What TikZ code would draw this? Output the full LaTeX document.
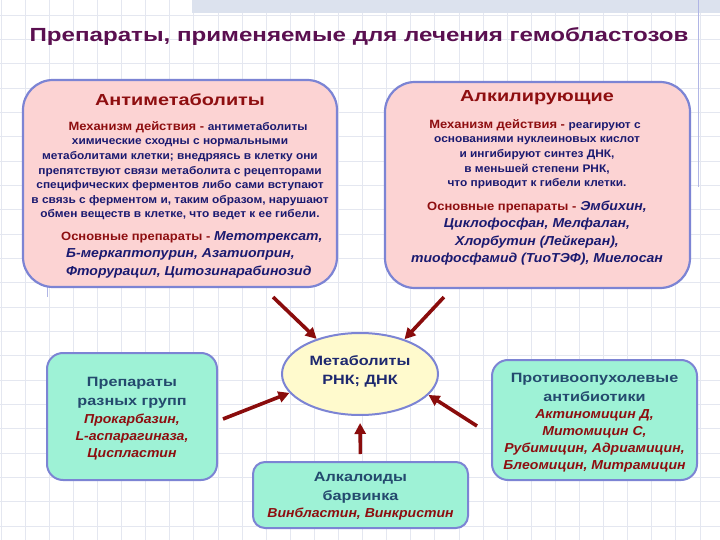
\documentclass[tikz,border=0pt]{standalone}
\usepackage{fontspec}
\setmainfont{Liberation Sans}
\newfontfamily\titlef[FakeStretch=1.27]{Liberation Sans}
\newfontfamily\headf[FakeStretch=1.24]{Liberation Sans}
\newfontfamily\aheadf[FakeStretch=1.2]{Liberation Sans}
\newfontfamily\bodyf[FakeStretch=1.08]{Liberation Sans}
\usetikzlibrary{arrows.meta,shapes.geometric,patterns}
\definecolor{titlec}{HTML}{5A0F50}
\definecolor{dred}{HTML}{8E0E10}
\definecolor{navy}{HTML}{1A1A70}
\definecolor{slate}{HTML}{244A6E}
\definecolor{pinkf}{HTML}{FCD3D3}
\definecolor{aquaf}{HTML}{9EF2D6}
\definecolor{yelf}{HTML}{FFFACD}
\definecolor{edgec}{HTML}{7C84D4}
\definecolor{gridc}{HTML}{E4E7F0}
\definecolor{arrc}{HTML}{8A0C0C}
\definecolor{bandc}{HTML}{DCE2EE}
\begin{document}
\begin{tikzpicture}[x=1pt,y=-1pt,
  pinkbox/.style n args={2}{draw=edgec,line width=2.2pt,fill=pinkf,rounded corners=30pt,minimum width=#1,minimum height=#2,inner sep=0pt},
  aquabox/.style n args={3}{draw=edgec,line width=2pt,fill=aquaf,rounded corners=#3,minimum width=#1,minimum height=#2,inner sep=0pt},
  arr/.style={draw=arrc,line width=3.6pt,-{Triangle[length=11pt,width=11pt]}},
  txt/.style={align=center,inner sep=0pt},
  heading/.style={txt,text=dred,font=\headf\bfseries\fontsize{16}{19}\selectfont},
  mech/.style={txt,text=dred,font=\bodyf\bfseries\fontsize{12}{14}\selectfont},
  body/.style={txt,text=navy,font=\bodyf\bfseries\fontsize{11}{14.6}\selectfont},
  drugs/.style={txt,text=navy,font=\bodyf\bfseries\itshape\fontsize{13}{17.5}\selectfont},
  aquahead/.style={txt,text=slate,font=\aheadf\bfseries\fontsize{13.5}{19}\selectfont},
  aquadrugs/.style={txt,text=dred,font=\bodyf\bfseries\itshape\fontsize{13}{17}\selectfont}]
\useasboundingbox (0,0) rectangle (720,540);
\fill[white] (0,0) rectangle (720,540);
% grid
\foreach \i in {0,...,30} \draw[gridc,line width=0.7pt] ({1+24.1*\i},0) -- ({1+24.1*\i},540);
\foreach \j in {0,...,22} \draw[gridc,line width=0.7pt] (0,{15+24.33*\j}) -- (720,{15+24.33*\j});
% top band and decorative lines
\fill[bandc] (192,0) rectangle (720,13);
\draw[edgec!60,line width=0.8pt] (698,0) -- (698,187);
\draw[edgec!60,line width=0.8pt] (47,80) -- (47,297);
% title
\node[txt,text=titlec,font=\titlef\bfseries\fontsize{19}{22}\selectfont] (title) at (359,37) {Препараты, применяемые для лечения гемобластозов};
% boxes
\node[pinkbox={314pt}{207pt}] (lpk) at (180,183.5) {};
\node[pinkbox={305pt}{206pt}] (rpk) at (537.5,185) {};
\node[ellipse,draw=edgec,line width=2pt,fill=yelf,minimum width=156pt,minimum height=82pt,inner sep=0pt] (ell) at (360,374) {};
\node[aquabox={170pt}{127pt}{16pt}] (lbb) at (132,416.5) {};
\node[aquabox={205pt}{120pt}{16pt}] (rbb) at (594.5,420) {};
\node[aquabox={215pt}{66pt}{12pt}] (bcb) at (360.5,495) {};
% left pink text
\node[heading] (lh) at (180,100) {Антиметаболиты};
\node[mech] (lm) at (188,127) {Механизм действия - {\color{navy}\fontsize{11}{12}\selectfont антиметаболиты}};
\node[body] (lb) at (180,179.5) {химические сходны с нормальными\\метаболитами клетки; внедряясь в клетку они\\препятствуют связи метаболита с рецепторами\\специфических ферментов либо сами вступают\\в связь с ферментом и, таким образом, нарушают\\обмен веществ в клетке, что ведет к ее гибели.};
\node[drugs,align=left,anchor=west] (ld) at (61,254.5) {{\color{dred}\upshape\fontsize{12}{14}\selectfont Основные препараты -} Метотрексат,\\\hspace*{5pt}Б-меркаптопурин, Азатиоприн,\\\hspace*{5pt}Фторурацил, Цитозинарабинозид};
% right pink text
\node[heading] (rh) at (537,98) {Алкилирующие};
\node[mech] (rm) at (535,125) {Механизм действия - {\color{navy}\fontsize{11}{12}\selectfont реагируют с}};
\node[body] (rb) at (537,163) {основаниями нуклеиновых кислот\\и ингибируют синтез ДНК,\\в меньшей степени РНК,\\что приводит к гибели клетки.};
\node[drugs] (rd) at (537,233) {{\color{dred}\upshape\fontsize{12}{14}\selectfont Основные препараты -} Эмбихин,\\Циклофосфан, Мелфалан,\\Хлорбутин (Лейкеран),\\тиофосфамид (ТиоТЭФ), Миелосан};
% ellipse text
\node[aquahead,text=navy!70!slate] (et) at (360,371) {Метаболиты\\РНК; ДНК};
% left bottom
\node[aquahead] (lbh) at (132,393) {Препараты\\разных групп};
\node[aquadrugs] (lbd) at (132,437) {Прокарбазин,\\L-аспарагиназа,\\Циспластин};
% right bottom
\node[aquahead] (rbh) at (594.5,387) {Противоопухолевые\\антибиотики};
\node[aquadrugs] (rbd) at (594.5,440.5) {Актиномицин Д,\\Митомицин С,\\Рубимицин, Адриамицин,\\Блеомицин, Митрамицин};
% bottom center
\node[aquahead] (bch) at (360.5,487.5) {Алкалоиды\\барвинка};
\node[aquadrugs] (bcd) at (360.5,514) {Винбластин, Винкристин};
% arrows
\draw[arr] ([xshift=-65pt,yshift=-9pt]lpk.south east) -- (ell.141);
\draw[arr] ([xshift=60pt,yshift=-8pt]rpk.south west) -- (ell.38);
\draw[arr] ([xshift=5pt,yshift=-2.5pt]lbb.east) -- (ell.195);
\draw[arr] ([xshift=-14pt,yshift=-6pt]rbb.west) -- (ell.-17);
\draw[arr,shorten <=7pt,shorten >=7pt] (bcb.north) -- (ell.south);
\end{tikzpicture}
\end{document}
